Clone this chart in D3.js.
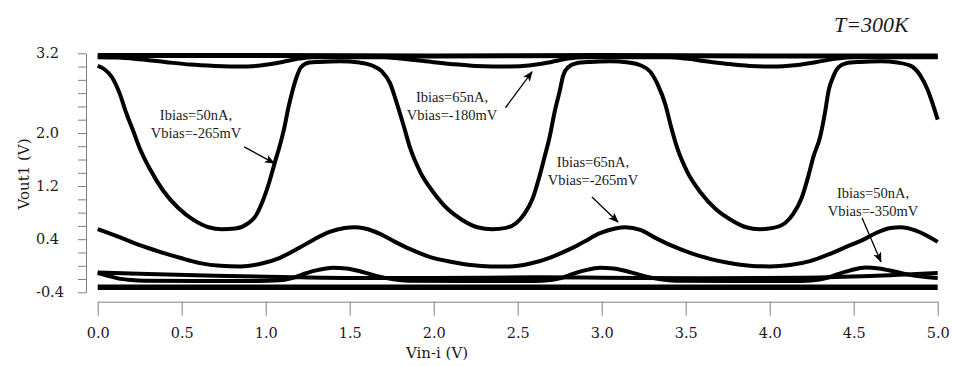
<!DOCTYPE html>
<html>
<head>
<meta charset="utf-8">
<script src="https://cdn.jsdelivr.net/npm/d3@7/dist/d3.min.js"></script>
<style>
  html, body { margin: 0; padding: 0; background: #ffffff; }
  svg { display: block; }
</style>
</head>
<body>
<svg id="chart" width="953" height="366"></svg>
<script>
// Vout1 versus Vin-i transfer curves, T = 300 K

// axis ticks
const vinTicks = [0.0, 0.5, 1.0, 1.5, 2.0, 2.5, 3.0, 3.5, 4.0, 4.5, 5.0];
const voutTicks = [-0.4, -0.2, 0.0, 0.2, 0.4, 0.6, 0.8, 1.0, 1.2, 1.4, 1.6, 1.8, 2.0, 2.2, 2.4, 2.6, 2.8, 3.0, 3.2];
const voutLabels = [-0.4, 0.4, 1.2, 2.0, 3.2];

// series: [Vin-i (V), Vout1 (V)]
const highRail = [[0, 3.165], [1.0, 3.165], [2.0, 3.16], [3.0, 3.165], [4.0, 3.16], [5.0, 3.16]];

const ib65_vb180 = [
  [0, 3.14], [0.12, 3.135], [0.25, 3.11], [0.4, 3.07], [0.55, 3.03], [0.7, 3.01], [0.85, 3.0],
  [0.98, 3.02], [1.1, 3.07], [1.2, 3.12], [1.28, 3.14], [1.7, 3.14], [1.8, 3.12], [1.95, 3.08],
  [2.1, 3.04], [2.25, 3.01], [2.45, 3.0], [2.58, 3.02], [2.7, 3.07], [2.8, 3.12], [2.9, 3.14],
  [3.4, 3.14], [3.5, 3.12], [3.62, 3.08], [3.75, 3.04], [3.88, 3.01], [4.02, 3.0], [4.15, 3.02],
  [4.28, 3.07], [4.4, 3.12], [4.5, 3.14], [5.0, 3.14]
];

const ib50_vb265 = [
  [0.00, 3.01], [0.04, 2.96], [0.085, 2.84], [0.13, 2.60], [0.17, 2.30], [0.21, 2.04], [0.25, 1.77],
  [0.31, 1.46], [0.39, 1.13], [0.48, 0.87], [0.57, 0.69], [0.66, 0.58], [0.74, 0.55], [0.82, 0.56],
  [0.89, 0.63], [0.94, 0.75], [0.98, 0.96], [1.02, 1.25], [1.055, 1.56], [1.085, 1.82], [1.11, 2.07],
  [1.135, 2.38], [1.16, 2.64], [1.185, 2.85], [1.21, 2.99], [1.26, 3.06], [1.32, 3.07], [1.44, 3.08],
  [1.56, 3.06], [1.63, 3.02], [1.69, 2.93], [1.74, 2.75], [1.78, 2.45], [1.82, 2.12], [1.86, 1.77],
  [1.92, 1.41], [2.00, 1.10], [2.085, 0.85], [2.17, 0.69], [2.26, 0.58], [2.35, 0.55], [2.43, 0.57],
  [2.49, 0.64], [2.54, 0.78], [2.59, 1.02], [2.63, 1.35], [2.66, 1.64], [2.69, 1.94], [2.72, 2.32],
  [2.75, 2.63], [2.77, 2.86], [2.80, 2.99], [2.85, 3.05], [2.93, 3.07], [3.05, 3.08], [3.16, 3.06],
  [3.23, 3.02], [3.29, 2.92], [3.335, 2.72], [3.38, 2.42], [3.41, 2.12], [3.45, 1.77], [3.51, 1.41],
  [3.59, 1.10], [3.68, 0.85], [3.77, 0.69], [3.86, 0.58], [3.94, 0.55], [4.02, 0.57], [4.09, 0.64],
  [4.14, 0.78], [4.19, 1.02], [4.23, 1.35], [4.26, 1.64], [4.30, 1.94], [4.33, 2.32], [4.35, 2.63],
  [4.38, 2.86], [4.41, 2.99], [4.455, 3.05], [4.54, 3.07], [4.66, 3.08], [4.76, 3.06], [4.84, 3.01],
  [4.895, 2.87], [4.94, 2.65], [5.00, 2.20]
];

const ib65_vb265 = [
  [0, 0.55], [0.13, 0.43], [0.25, 0.31], [0.37, 0.21], [0.49, 0.12], [0.61, 0.04], [0.73, 0.00],
  [0.85, -0.01], [0.97, 0.03], [1.085, 0.12], [1.20, 0.27], [1.29, 0.40], [1.38, 0.51], [1.47, 0.57],
  [1.53, 0.58], [1.59, 0.56], [1.68, 0.48], [1.77, 0.36], [1.86, 0.25], [1.98, 0.13], [2.10, 0.06],
  [2.22, 0.01], [2.34, -0.01], [2.45, -0.01], [2.57, 0.03], [2.69, 0.12], [2.81, 0.25], [2.90, 0.37],
  [2.99, 0.49], [3.08, 0.56], [3.14, 0.58], [3.23, 0.54], [3.32, 0.42], [3.41, 0.31], [3.53, 0.19],
  [3.65, 0.10], [3.76, 0.04], [3.88, 0.00], [4.00, -0.01], [4.12, 0.01], [4.24, 0.07], [4.36, 0.18],
  [4.48, 0.31], [4.555, 0.39], [4.63, 0.49], [4.72, 0.57], [4.78, 0.58], [4.87, 0.53], [5.0, 0.36]
];

const lowDrift = [
  [0, -0.10], [0.3, -0.125], [0.7, -0.15], [1.1, -0.17], [1.5, -0.185], [2.0, -0.185], [2.6, -0.175],
  [3.0, -0.18], [3.6, -0.19], [4.2, -0.18], [4.6, -0.155], [5.0, -0.11]
];

const ib50_vb350 = [
  [0, -0.11], [0.06, -0.15], [0.12, -0.19], [0.2, -0.215], [0.28, -0.225], [0.6, -0.23], [0.95, -0.23],
  [1.08, -0.22], [1.15, -0.19], [1.22, -0.13], [1.3, -0.07], [1.4, -0.03], [1.48, -0.04], [1.57, -0.09],
  [1.67, -0.16], [1.76, -0.205], [1.85, -0.225], [2.2, -0.23], [2.6, -0.23], [2.68, -0.22], [2.75, -0.19],
  [2.82, -0.13], [2.9, -0.07], [2.99, -0.03], [3.07, -0.04], [3.16, -0.09], [3.26, -0.16], [3.35, -0.205],
  [3.44, -0.225], [3.8, -0.23], [4.18, -0.23], [4.26, -0.22], [4.33, -0.19], [4.4, -0.13], [4.48, -0.07],
  [4.57, -0.025], [4.65, -0.04], [4.74, -0.085], [4.84, -0.14], [4.93, -0.17], [5.0, -0.185]
];

const lowRail = [[0, -0.323], [1.0, -0.323], [2.0, -0.323], [3.0, -0.323], [4.0, -0.323], [5.0, -0.323]];

// annotation text, anchored in data units
const notes = [
  { lines: ["Ibias=50nA,", "Vbias=-265mV"], at: [0.585, 2.195], from: [0.872, 1.79], to: [1.05, 1.545] },
  { lines: ["Ibias=65nA,", "Vbias=-180mV"], at: [2.109, 2.466], from: [2.427, 2.38], to: [2.585, 2.92] },
  { lines: ["Ibias=65nA,", "Vbias=-265mV"], at: [2.948, 1.487], from: [2.942, 1.035], to: [3.097, 0.66] },
  { lines: ["Ibias=50nA,", "Vbias=-350mV"], at: [4.615, 1.020], from: [4.55, 0.72], to: [4.662, 0.06] }
];

const svg = d3.select("#chart");
const x = d3.scaleLinear().domain([0, 5]).range([97.7, 937.7]);
const y = d3.scaleLinear().domain([-0.4, 3.2]).range([292.3, 53.3]);

const axisColor = "#808080";
const textColor = "#1a1a1a";
const tickFont = "'DejaVu Serif', serif";
const noteFont = "'Liberation Serif', 'Times New Roman', serif";
const fmt1 = d => d.toFixed(1);   // plain hyphen for negatives

// x axis
const gx = svg.append("g").attr("transform", "translate(0,301.7)")
  .call(d3.axisBottom(x).tickValues(vinTicks).tickFormat(fmt1)
    .tickSize(14).tickSizeOuter(0).tickPadding(12));
gx.select(".domain").attr("stroke", axisColor);
gx.selectAll(".tick line").attr("stroke", axisColor);
gx.selectAll(".tick text").attr("fill", textColor)
  .style("font-family", tickFont).style("font-size", "14.5px");

// y axis
const gy = svg.append("g").attr("transform", "translate(86,0)")
  .call(d3.axisLeft(y).tickValues(voutTicks)
    .tickFormat(d => voutLabels.some(v => Math.abs(v - d) < 1e-9) ? fmt1(d) : "")
    .tickSize(8).tickSizeOuter(0));
gy.select(".domain").attr("stroke", axisColor);
gy.selectAll(".tick line").attr("stroke", axisColor);
gy.selectAll(".tick text").attr("fill", textColor).attr("x", -50).attr("text-anchor", "start")
  .style("font-family", tickFont).style("font-size", "14.5px");

// axis titles
svg.append("text").attr("x", 437).attr("y", 358).attr("text-anchor", "middle")
  .attr("fill", textColor).style("font-family", tickFont).style("font-size", "15px")
  .text("Vin-i (V)");
svg.append("text").attr("transform", "translate(29,174) rotate(-90)").attr("text-anchor", "middle")
  .attr("fill", textColor).style("font-family", tickFont).style("font-size", "15px")
  .text("Vout1 (V)");

// temperature tag
svg.append("text").attr("x", 834).attr("y", 32)
  .attr("fill", textColor).style("font-family", noteFont).style("font-style", "italic").style("font-size", "22px")
  .text("T=300K");

// curves
const line = d3.line().x(d => x(d[0])).y(d => y(d[1])).curve(d3.curveMonotoneX);
const series = [
  { data: lowRail, w: 5.6 },
  { data: lowDrift, w: 4 },
  { data: ib50_vb350, w: 4 },
  { data: ib65_vb265, w: 4 },
  { data: ib50_vb265, w: 4 },
  { data: ib65_vb180, w: 4 },
  { data: highRail, w: 5 }
];
svg.append("g").selectAll("path").data(series).join("path")
  .attr("d", d => line(d.data))
  .attr("fill", "none").attr("stroke", "#000").attr("stroke-width", d => d.w)
  .attr("stroke-linejoin", "round");

// annotation arrows
svg.append("defs").append("marker")
  .attr("id", "head").attr("viewBox", "0 0 10 10").attr("refX", 9).attr("refY", 5)
  .attr("markerWidth", 8).attr("markerHeight", 8).attr("orient", "auto")
  .append("path").attr("d", "M0,1 L10,5 L0,9 L2.5,5 Z").attr("fill", "#000");

const ann = svg.append("g");
notes.forEach(n => {
  ann.append("line")
    .attr("x1", x(n.from[0])).attr("y1", y(n.from[1]))
    .attr("x2", x(n.to[0])).attr("y2", y(n.to[1]))
    .attr("stroke", "#000").attr("stroke-width", 1.3).attr("marker-end", "url(#head)");
  const t = ann.append("text").attr("text-anchor", "middle").attr("fill", textColor)
    .style("font-family", noteFont).style("font-size", "14.5px");
  n.lines.forEach((s, i) => {
    t.append("tspan").attr("x", x(n.at[0])).attr("y", y(n.at[1]) + i * 17.5).text(s);
  });
});
</script>
</body>
</html>
